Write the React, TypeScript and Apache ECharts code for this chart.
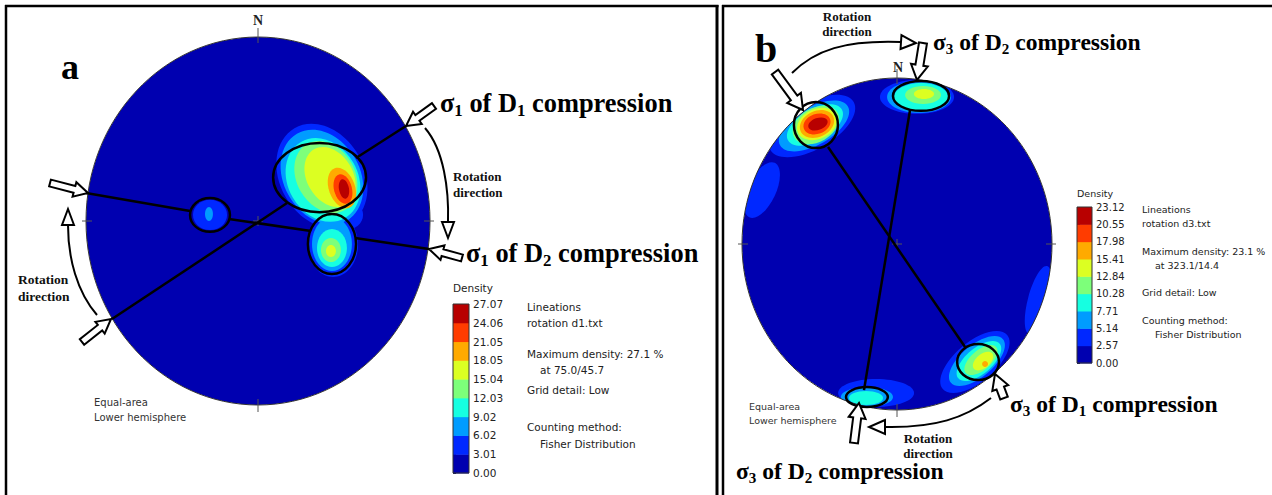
import React, { useEffect, useRef } from "react";
import * as echarts from "echarts";

// ---------- DATA ----------
const levelColors = ["#0000b0", "#0028ff", "#009cff", "#16ffe1", "#7dff7a", "#dcff22", "#ffaa00", "#ff3c00", "#b80000"];
const densityTicksA = ["0.00", "3.01", "6.02", "9.02", "12.03", "15.04", "18.05", "21.05", "24.06", "27.07"];
const densityTicksB = ["0.00", "2.57", "5.14", "7.71", "10.28", "12.84", "15.41", "17.98", "20.55", "23.12"];
const colorBins = [0, 1, 2, 3, 4, 5, 6, 7, 8];

// density contour bodies: [x, y, rx, ry, tiltDeg, level] on the unit stereonet
const densityA = [
  [0, 0, 1, 1, 0, 0],
  [0.372, 0.245, 0.244, 0.299, 30, 1],
  [0.506, 0.033, 0.105, 0.082, 0, 1],
  [0.436, -0.13, 0.145, 0.174, 0, 1],
  [-0.279, 0.033, 0.099, 0.082, 0, 1],
  [0.372, 0.239, 0.221, 0.272, 30, 2],
  [0.488, 0.06, 0.07, 0.06, 0, 2],
  [0.43, -0.125, 0.116, 0.147, 0, 2],
  [-0.285, 0.038, 0.023, 0.038, 0, 2],
  [0.378, 0.223, 0.203, 0.239, 30, 3],
  [0.43, -0.147, 0.087, 0.103, 0, 3],
  [0.395, 0.239, 0.169, 0.207, 30, 4],
  [0.424, -0.158, 0.058, 0.065, 0, 4],
  [0.419, 0.239, 0.134, 0.174, 30, 5],
  [0.424, -0.163, 0.029, 0.033, 0, 5],
  [0.488, 0.179, 0.076, 0.114, 20, 6],
  [0.494, 0.174, 0.052, 0.082, 15, 7],
  [0.5, 0.174, 0.029, 0.054, 10, 8],
];
const densityB = [
  [0, 0, 1, 1, 0, 0],
  [-0.548, 0.711, 0.31, 0.139, 30, 1],
  [-0.871, 0.325, 0.09, 0.181, -25, 1],
  [0.129, 0.886, 0.239, 0.102, 0, 1],
  [0.503, -0.711, 0.271, 0.12, 40, 1],
  [0.91, -0.337, 0.065, 0.211, -15, 1],
  [-0.135, -0.898, 0.245, 0.084, 0, 1],
  [-0.535, 0.711, 0.252, 0.114, 30, 2],
  [0.142, 0.886, 0.206, 0.096, 0, 2],
  [0.516, -0.705, 0.219, 0.096, 40, 2],
  [-0.194, -0.922, 0.168, 0.06, 0, 2],
  [-0.529, 0.717, 0.2, 0.096, 30, 3],
  [0.155, 0.886, 0.174, 0.084, 0, 3],
  [0.529, -0.705, 0.174, 0.078, 40, 3],
  [-0.2, -0.928, 0.11, 0.042, 0, 3],
  [-0.523, 0.717, 0.161, 0.102, 30, 4],
  [0.168, 0.898, 0.116, 0.054, 0, 4],
  [0.542, -0.699, 0.129, 0.06, 40, 4],
  [-0.516, 0.723, 0.135, 0.09, 25, 5],
  [0.174, 0.904, 0.065, 0.03, 0, 5],
  [0.555, -0.705, 0.077, 0.042, 40, 5],
  [-0.516, 0.723, 0.116, 0.078, 25, 6],
  [0.568, -0.723, 0.019, 0.018, 0, 6],
  [-0.516, 0.723, 0.09, 0.06, 20, 7],
  [-0.51, 0.723, 0.065, 0.036, 20, 8],
];
// great-circle traces (segments): [x1, y1, x2, y2]
const tracesA = [
  [0.86, 0.516, 0.57, 0.342],
  [0.169, 0.098, -0.849, -0.533],
  [-1.0, 0.152, -0.395, 0.054],
  [-0.169, 0.011, 0.308, -0.054],
  [0.564, -0.092, 0.994, -0.152],
];
const tracesB = [
  [-0.445, 0.584, 0.439, -0.62],
  [0.084, 0.807, -0.213, -0.88],
];
// highlighted clusters: [x, y, rx, ry]
const clustersA = [
  [0.358, 0.236, 0.27, 0.188],
  [-0.279, 0.033, 0.116, 0.092],
  [0.43, -0.125, 0.14, 0.163],
];
const clustersB = [
  [-0.523, 0.717, 0.142, 0.139],
  [0.155, 0.892, 0.181, 0.09],
  [0.523, -0.711, 0.135, 0.108],
  [-0.194, -0.922, 0.135, 0.06],
];
const centre = [[0, 0]];

// ---------- STYLE HELPERS ----------
const serif = "'Liberation Serif', 'Times New Roman', serif";
const sans = "'DejaVu Sans', sans-serif";

function blobRender(params: any, api: any) {
  const c = api.coord([api.value(0), api.value(1)]);
  const s = api.size([api.value(2), api.value(3)]);
  const o = api.coord([0, 0]);
  const r = api.size([1, 1]);
  return {
    type: "group",
    clipPath: { type: "ellipse", shape: { cx: o[0], cy: o[1], rx: r[0], ry: r[1] } },
    children: [
      {
        type: "ellipse",
        x: c[0],
        y: c[1],
        rotation: (api.value(4) * Math.PI) / 180,
        shape: { cx: 0, cy: 0, rx: s[0], ry: s[1] },
        style: { fill: levelColors[api.value(5)], stroke: null },
      },
    ],
  };
}

function frameRender(params: any, api: any) {
  const o = api.coord([api.value(0), api.value(1)]);
  const r = api.size([1, 1]);
  const st = { stroke: "#555", lineWidth: 1 };
  const cx = o[0], cy = o[1], rx = r[0], ry = r[1];
  return {
    type: "group",
    children: [
      { type: "ellipse", shape: { cx, cy, rx, ry }, style: { fill: null, stroke: "#333", lineWidth: 1 } },
      { type: "line", shape: { x1: cx, y1: cy - ry - 9, x2: cx, y2: cy - ry + 6 }, style: st },
      { type: "line", shape: { x1: cx, y1: cy + ry - 6, x2: cx, y2: cy + ry + 7 }, style: st },
      { type: "line", shape: { x1: cx - rx - 4, y1: cy, x2: cx - rx + 6, y2: cy }, style: st },
      { type: "line", shape: { x1: cx + rx - 6, y1: cy, x2: cx + rx + 4, y2: cy }, style: st },
      { type: "line", shape: { x1: cx - 5, y1: cy, x2: cx + 5, y2: cy }, style: st },
      { type: "line", shape: { x1: cx, y1: cy - 5, x2: cx, y2: cy + 5 }, style: st },
    ],
  };
}

function traceRender(params: any, api: any) {
  const p1 = api.coord([api.value(0), api.value(1)]);
  const p2 = api.coord([api.value(2), api.value(3)]);
  return {
    type: "line",
    shape: { x1: p1[0], y1: p1[1], x2: p2[0], y2: p2[1] },
    style: { stroke: "#000", lineWidth: 2.5 },
  };
}

function clusterRender(params: any, api: any) {
  const c = api.coord([api.value(0), api.value(1)]);
  const s = api.size([api.value(2), api.value(3)]);
  return {
    type: "ellipse",
    shape: { cx: c[0], cy: c[1], rx: s[0], ry: s[1] },
    style: { fill: null, stroke: "#000", lineWidth: 2.5 },
  };
}

function binRender(params: any, api: any) {
  const i = api.value(0);
  const p1 = api.coord([0, i + 1]);
  const p2 = api.coord([1, i]);
  return {
    type: "rect",
    shape: { x: p1[0], y: p1[1], width: p2[0] - p1[0], height: p2[1] - p1[1] + 0.5 },
    style: { fill: levelColors[i], stroke: null },
  };
}

function barFrameRender(params: any, api: any) {
  const p1 = api.coord([0, 9]);
  const p2 = api.coord([1, 0]);
  return {
    type: "rect",
    shape: { x: p1[0], y: p1[1], width: p2[0] - p1[0], height: p2[1] - p1[1] },
    style: { fill: null, stroke: "#333", lineWidth: 1 },
  };
}

function hollowArrow(tail: number[], tip: number[], sw: number, hw: number, hl: number) {
  const dx = tip[0] - tail[0], dy = tip[1] - tail[1];
  const len = Math.hypot(dx, dy);
  const ux = dx / len, uy = dy / len, px = -uy, py = ux;
  const bx = tip[0] - ux * hl, by = tip[1] - uy * hl;
  const pts = [
    [tail[0] + (px * sw) / 2, tail[1] + (py * sw) / 2],
    [bx + (px * sw) / 2, by + (py * sw) / 2],
    [bx + (px * hw) / 2, by + (py * hw) / 2],
    [tip[0], tip[1]],
    [bx - (px * hw) / 2, by - (py * hw) / 2],
    [bx - (px * sw) / 2, by - (py * sw) / 2],
    [tail[0] - (px * sw) / 2, tail[1] - (py * sw) / 2],
  ];
  return { type: "polygon", z: 30, shape: { points: pts }, style: { fill: "#fff", stroke: "#000", lineWidth: 2 } };
}

function curvedArrow(p0: number[], c1: number[], c2: number[], p3: number[], tip: number[], hw: number) {
  const dx = tip[0] - p3[0], dy = tip[1] - p3[1];
  const len = Math.hypot(dx, dy);
  const px = -dy / len, py = dx / len;
  return [
    {
      type: "bezierCurve",
      z: 30,
      shape: { x1: p0[0], y1: p0[1], cpx1: c1[0], cpy1: c1[1], cpx2: c2[0], cpy2: c2[1], x2: p3[0], y2: p3[1] },
      style: { fill: null, stroke: "#000", lineWidth: 2 },
    },
    {
      type: "polygon",
      z: 30,
      shape: { points: [[p3[0] + (px * hw) / 2, p3[1] + (py * hw) / 2], [tip[0], tip[1]], [p3[0] - (px * hw) / 2, p3[1] - (py * hw) / 2]] },
      style: { fill: "#fff", stroke: "#000", lineWidth: 2 },
    },
  ];
}

function txt(x: number, y: number, text: string, o: any = {}) {
  return {
    type: "text",
    z: 40,
    x,
    y,
    style: {
      text,
      fontFamily: o.family || sans,
      fontSize: o.size || 10,
      fontWeight: o.weight || "normal",
      fill: o.color || "#222",
      lineHeight: o.lh,
      align: o.align || "left",
      verticalAlign: "middle",
      textAlign: o.align || "left",
      textVerticalAlign: "middle",
    },
  };
}

function sigmaText(x: number, y: number, s: string, d: string, size: number) {
  return {
    type: "text",
    z: 40,
    x,
    y,
    style: {
      text: `{b|σ}{s|${s}}{b| of D}{s|${d}}{b| compression}`,
      rich: {
        b: { fontFamily: serif, fontWeight: "bold", fontSize: size, lineHeight: size * 1.2, fill: "#000" },
        s: { fontFamily: serif, fontWeight: "bold", fontSize: size * 0.64, fill: "#000", verticalAlign: "bottom" },
      },
      align: "left",
      verticalAlign: "middle",
      textAlign: "left",
      textVerticalAlign: "middle",
    },
  };
}

function border(x1: number, y1: number, x2: number, y2: number, w: number) {
  return { type: "line", z: 50, shape: { x1, y1, x2, y2 }, style: { stroke: "#000", lineWidth: w } };
}

function buildOption() {
  const sorted = (d: number[][]) => d.slice().sort((a, b) => a[5] - b[5]);
  const hidden = { show: false };
  const barAxis = (ticks: string[], size: number) => ({
    type: "value",
    min: 0,
    max: 9,
    interval: 1,
    position: "right",
    axisLine: { show: false },
    splitLine: { show: false },
    axisTick: { show: true, length: 3, lineStyle: { color: "#333" } },
    axisLabel: { formatter: (v: number) => ticks[Math.round(v)], fontSize: size, color: "#222", margin: 4, fontFamily: sans },
  });
  const graphic: any[] = [
    border(6, 5, 6, 495, 2.5),
    border(5, 6, 718.5, 6, 2.5),
    border(717, 5, 717, 495, 3),
    border(723, 5, 723, 495, 2.5),
    border(722, 6, 1272, 6, 2.5),
    // panel a
    txt(258, 20, "N", { family: serif, weight: "bold", size: 14, align: "center" }),
    txt(70, 67, "a", { family: serif, weight: "bold", size: 36, color: "#000", align: "center" }),
    sigmaText(440, 103, "1", "1", 26.4),
    sigmaText(466, 253, "1", "2", 26.4),
    txt(453, 184, "Rotation\ndirection", { family: serif, weight: "bold", size: 13, lh: 16, color: "#111" }),
    txt(18, 288, "Rotation\ndirection", { family: serif, weight: "bold", size: 13.5, lh: 17, color: "#111" }),
    txt(94, 409.5, "Equal-area\nLower hemisphere", { size: 10, lh: 15, color: "#333" }),
    txt(453, 288, "Density", { size: 10.5 }),
    txt(527, 307, "Lineations", { size: 10.5 }),
    txt(527, 323, "rotation d1.txt", { size: 10.5 }),
    txt(527, 354, "Maximum density: 27.1 %", { size: 10.5 }),
    txt(540, 370, "at 75.0/45.7", { size: 10.5 }),
    txt(527, 390, "Grid detail: Low", { size: 10.5 }),
    txt(527, 427, "Counting method:", { size: 10.5 }),
    txt(540, 444, "Fisher Distribution", { size: 10.5 }),
    hollowArrow([434, 106], [406, 126], 7, 15, 14),
    hollowArrow([462, 258], [429, 249], 7, 15, 14),
    hollowArrow([50, 183], [88, 193], 7, 15, 14),
    hollowArrow([82, 342], [111, 319], 7, 15, 14),
    ...curvedArrow([425, 128], [444, 150], [449, 190], [448, 222], [448, 238], 12),
    ...curvedArrow([97, 315], [77, 292], [68, 258], [68, 225], [68, 209], 12),
    // panel b
    txt(898, 67, "N", { family: serif, weight: "bold", size: 14, align: "center" }),
    txt(766, 48, "b", { family: serif, weight: "bold", size: 40, color: "#000", align: "center" }),
    txt(847, 23.5, "Rotation\ndirection", { family: serif, weight: "bold", size: 13, lh: 15, align: "center", color: "#111" }),
    txt(928, 445.5, "Rotation\ndirection", { family: serif, weight: "bold", size: 13, lh: 15, align: "center", color: "#111" }),
    sigmaText(933, 42, "3", "2", 23.6),
    sigmaText(1010, 404, "3", "1", 23.6),
    sigmaText(736, 471, "3", "2", 23.6),
    txt(749, 413, "Equal-area\nLower hemisphere", { size: 9.5, lh: 14, color: "#333" }),
    txt(1077, 193, "Density", { size: 9.5 }),
    txt(1142, 209, "Lineations", { size: 9.5 }),
    txt(1142, 223.5, "rotation d3.txt", { size: 9.5 }),
    txt(1142, 251, "Maximum density: 23.1 %", { size: 9.5 }),
    txt(1155, 265.5, "at 323.1/14.4", { size: 9.5 }),
    txt(1142, 292, "Grid detail: Low", { size: 9.5 }),
    txt(1142, 320, "Counting method:", { size: 9.5 }),
    txt(1155, 334, "Fisher Distribution", { size: 9.5 }),
    hollowArrow([775, 72], [803, 110], 8, 17, 15),
    hollowArrow([923, 43], [917, 80], 8, 17, 15),
    hollowArrow([1004, 398], [995, 374], 8, 17, 15),
    hollowArrow([854, 443], [859, 403], 8, 17, 15),
    ...curvedArrow([792, 73], [815, 50], [845, 40], [901, 42], [916, 43], 14),
    ...curvedArrow([991, 398], [965, 418], [935, 428], [885, 427], [869, 427], 14),
  ];

  return {
    animation: false,
    backgroundColor: "#fff",
    grid: [
      { left: 86, top: 37, width: 344, height: 368, show: false },
      { left: 453, top: 304, width: 16, height: 169, show: false },
      { left: 742, top: 78, width: 310, height: 332, show: false },
      { left: 1077, top: 207, width: 15, height: 156, show: false },
    ],
    xAxis: [
      { gridIndex: 0, type: "value", min: -1, max: 1, ...hidden },
      { gridIndex: 1, type: "value", min: 0, max: 1, ...hidden },
      { gridIndex: 2, type: "value", min: -1, max: 1, ...hidden },
      { gridIndex: 3, type: "value", min: 0, max: 1, ...hidden },
    ],
    yAxis: [
      { gridIndex: 0, type: "value", min: -1, max: 1, ...hidden },
      { gridIndex: 1, ...barAxis(densityTicksA, 10.5) },
      { gridIndex: 2, type: "value", min: -1, max: 1, ...hidden },
      { gridIndex: 3, ...barAxis(densityTicksB, 10) },
    ],
    series: [
      { type: "custom", xAxisIndex: 0, yAxisIndex: 0, data: sorted(densityA), renderItem: blobRender, encode: { x: 0, y: 1 }, z: 2 },
      { type: "custom", xAxisIndex: 0, yAxisIndex: 0, data: centre, renderItem: frameRender, z: 3 },
      { type: "custom", xAxisIndex: 0, yAxisIndex: 0, data: tracesA, renderItem: traceRender, z: 4 },
      { type: "custom", xAxisIndex: 0, yAxisIndex: 0, data: clustersA, renderItem: clusterRender, z: 5 },
      { type: "custom", xAxisIndex: 1, yAxisIndex: 1, data: colorBins.map((i) => [i]), renderItem: binRender, z: 2 },
      { type: "custom", xAxisIndex: 1, yAxisIndex: 1, data: [[0]], renderItem: barFrameRender, z: 3 },
      { type: "custom", xAxisIndex: 2, yAxisIndex: 2, data: sorted(densityB), renderItem: blobRender, encode: { x: 0, y: 1 }, z: 2 },
      { type: "custom", xAxisIndex: 2, yAxisIndex: 2, data: centre, renderItem: frameRender, z: 3 },
      { type: "custom", xAxisIndex: 2, yAxisIndex: 2, data: tracesB, renderItem: traceRender, z: 4 },
      { type: "custom", xAxisIndex: 2, yAxisIndex: 2, data: clustersB, renderItem: clusterRender, z: 5 },
      { type: "custom", xAxisIndex: 3, yAxisIndex: 3, data: colorBins.map((i) => [i]), renderItem: binRender, z: 2 },
      { type: "custom", xAxisIndex: 3, yAxisIndex: 3, data: [[0]], renderItem: barFrameRender, z: 3 },
    ],
    graphic,
  };
}

export default function App() {
  const ref = useRef<HTMLDivElement>(null);
  useEffect(() => {
    const chart = echarts.init(ref.current!, undefined, { renderer: "svg" });
    chart.setOption(buildOption() as any);
    return () => chart.dispose();
  }, []);
  return (
    <div
      ref={ref}
      style={{ position: "absolute", left: 0, top: 0, width: 1272, height: 495, background: "#fff" }}
    />
  );
}
